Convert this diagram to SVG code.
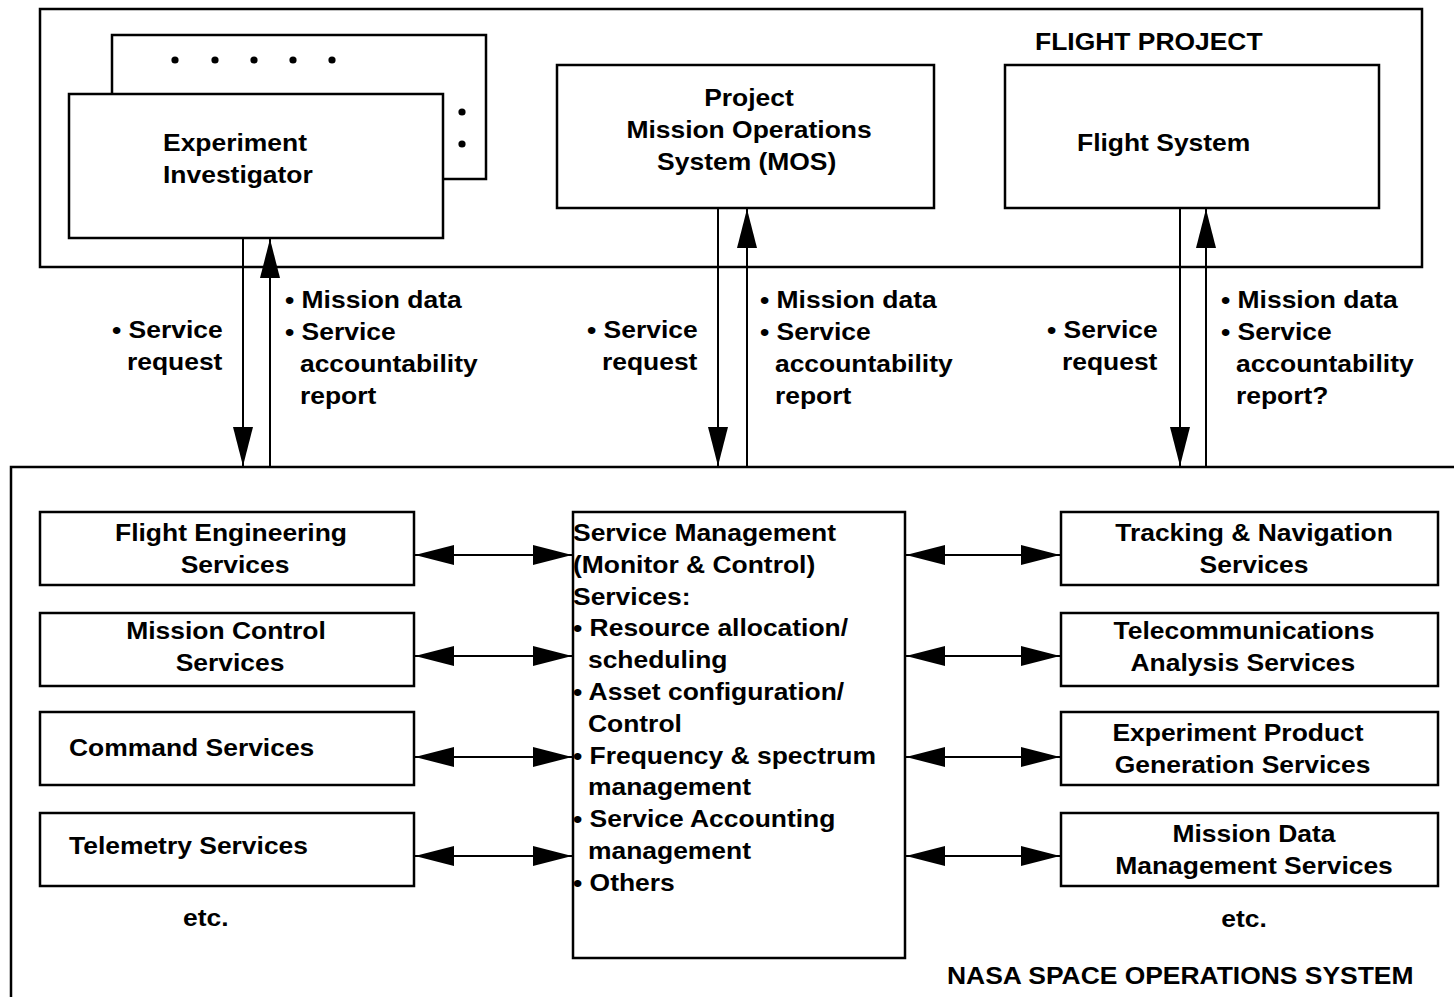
<svg xmlns="http://www.w3.org/2000/svg" width="1454" height="997" viewBox="0 0 1454 997">
<style>
.box{fill:#fff;stroke:#000;stroke-width:2.5}
.frame{fill:none;stroke:#000;stroke-width:2.5}
.ln{fill:none;stroke:#000;stroke-width:2}
.t{font-family:"Liberation Sans",Arial,Helvetica,sans-serif;font-weight:bold;font-size:23px;fill:#000}
.m{text-anchor:middle}
</style>
<defs>
<marker id="ah" viewBox="0 0 39 20" refX="39" refY="10" markerWidth="39" markerHeight="20" markerUnits="userSpaceOnUse" orient="auto-start-reverse">
<path d="M0,0 L39,10 L0,20 Z" fill="#000"/>
</marker>
</defs>
<rect width="1454" height="997" fill="#fff"/>

<g id="flight-project">
<rect class="frame" x="40" y="9" width="1382" height="258"/>
<text class="t" transform="translate(1035 50) scale(1.15 1)">FLIGHT PROJECT</text>
</g>

<g id="experiment-investigator">
<rect class="box" x="112" y="35" width="374" height="144"/>
<circle cx="175" cy="60" r="3.6"/><circle cx="215" cy="60" r="3.6"/><circle cx="254" cy="60" r="3.6"/><circle cx="293" cy="60" r="3.6"/><circle cx="332" cy="60" r="3.6"/>
<circle cx="462" cy="112" r="3.6"/><circle cx="462" cy="144" r="3.6"/>
<rect class="box" x="69" y="94" width="374" height="144"/>
<text class="t" transform="translate(163 151) scale(1.15 1)">Experiment<tspan x="0" dy="32">Investigator</tspan></text>
</g>

<g id="project-mos">
<rect class="box" x="557" y="65" width="377" height="143"/>
<text class="t m" transform="translate(749 106) scale(1.15 1)">Project<tspan x="0" dy="32">Mission Operations</tspan><tspan x="-2" dy="32">System (MOS)</tspan></text>
</g>

<g id="flight-system">
<rect class="box" x="1005" y="65" width="374" height="143"/>
<text class="t" transform="translate(1077 151) scale(1.15 1)">Flight System</text>
</g>

<g id="nasa-space-operations-system">
<rect class="frame" x="11" y="467" width="1460" height="560"/>
<text class="t" transform="translate(947 984) scale(1.15 1)">NASA SPACE OPERATIONS SYSTEM</text>
</g>

<g id="flight-engineering">
<rect class="box" x="40" y="512" width="374" height="73"/>
<text class="t m" transform="translate(231 541) scale(1.15 1)">Flight Engineering<tspan x="3.5" dy="32">Services</tspan></text>
</g>
<g id="mission-control">
<rect class="box" x="40" y="613" width="374" height="73"/>
<text class="t m" transform="translate(226 639) scale(1.15 1)">Mission Control<tspan x="3.5" dy="32">Services</tspan></text>
</g>
<g id="command">
<rect class="box" x="40" y="712" width="374" height="73"/>
<text class="t" transform="translate(69 756) scale(1.15 1)">Command Services</text>
</g>
<g id="telemetry">
<rect class="box" x="40" y="813" width="374" height="73"/>
<text class="t" transform="translate(69 854) scale(1.15 1)">Telemetry Services</text>
</g>
<g id="etc-left">
<text class="t" transform="translate(183 926) scale(1.15 1)">etc.</text>
</g>

<g id="service-management">
<rect class="box" x="573" y="512" width="332" height="446"/>
<text class="t" transform="translate(573 541) scale(1.15 1)">Service Management<tspan x="0" dy="31.8">(Monitor &amp; Control)</tspan><tspan x="0" dy="31.8">Services:</tspan><tspan x="0" dy="31.8">• Resource allocation/</tspan><tspan x="13" dy="31.8">scheduling</tspan><tspan x="0" dy="31.8">• Asset configuration/</tspan><tspan x="13" dy="31.8">Control</tspan><tspan x="0" dy="31.8">• Frequency &amp; spectrum</tspan><tspan x="13" dy="31.8">management</tspan><tspan x="0" dy="31.8">• Service Accounting</tspan><tspan x="13" dy="31.8">management</tspan><tspan x="0" dy="31.8">• Others</tspan></text>
</g>

<g id="tracking-navigation">
<rect class="box" x="1061" y="512" width="377" height="73"/>
<text class="t m" transform="translate(1254 541) scale(1.15 1)">Tracking &amp; Navigation<tspan x="0" dy="32">Services</tspan></text>
</g>
<g id="telecommunications-analysis">
<rect class="box" x="1061" y="613" width="377" height="73"/>
<text class="t m" transform="translate(1244 639) scale(1.15 1)">Telecommunications<tspan x="-1" dy="32">Analysis Services</tspan></text>
</g>
<g id="experiment-product-generation">
<rect class="box" x="1061" y="712" width="377" height="73"/>
<text class="t m" transform="translate(1238 741) scale(1.15 1)">Experiment Product<tspan x="4" dy="32">Generation Services</tspan></text>
</g>
<g id="mission-data-management">
<rect class="box" x="1061" y="813" width="377" height="73"/>
<text class="t m" transform="translate(1254 842) scale(1.15 1)">Mission Data<tspan x="0" dy="32">Management Services</tspan></text>
</g>
<g id="etc-right">
<text class="t m" transform="translate(1244 927) scale(1.15 1)">etc.</text>
</g>

<g id="connectors">
<line class="ln" x1="243" y1="238" x2="243" y2="466" marker-end="url(#ah)"/>
<line class="ln" x1="270" y1="466" x2="270" y2="239" marker-end="url(#ah)"/>
<line class="ln" x1="718" y1="208" x2="718" y2="466" marker-end="url(#ah)"/>
<line class="ln" x1="747" y1="466" x2="747" y2="209" marker-end="url(#ah)"/>
<line class="ln" x1="1180" y1="208" x2="1180" y2="466" marker-end="url(#ah)"/>
<line class="ln" x1="1206" y1="466" x2="1206" y2="209" marker-end="url(#ah)"/>

<line class="ln" x1="415" y1="555" x2="572" y2="555" marker-start="url(#ah)" marker-end="url(#ah)"/>
<line class="ln" x1="415" y1="656" x2="572" y2="656" marker-start="url(#ah)" marker-end="url(#ah)"/>
<line class="ln" x1="415" y1="757" x2="572" y2="757" marker-start="url(#ah)" marker-end="url(#ah)"/>
<line class="ln" x1="415" y1="856" x2="572" y2="856" marker-start="url(#ah)" marker-end="url(#ah)"/>
<line class="ln" x1="906" y1="555" x2="1060" y2="555" marker-start="url(#ah)" marker-end="url(#ah)"/>
<line class="ln" x1="906" y1="656" x2="1060" y2="656" marker-start="url(#ah)" marker-end="url(#ah)"/>
<line class="ln" x1="906" y1="757" x2="1060" y2="757" marker-start="url(#ah)" marker-end="url(#ah)"/>
<line class="ln" x1="906" y1="856" x2="1060" y2="856" marker-start="url(#ah)" marker-end="url(#ah)"/>

<text class="t" transform="translate(112 338) scale(1.15 1)">• Service<tspan x="13" dy="32">request</tspan></text>
<text class="t" transform="translate(285 308) scale(1.15 1)">• Mission data<tspan x="0" dy="32">• Service</tspan><tspan x="13" dy="32">accountability</tspan><tspan x="13" dy="32">report</tspan></text>
<text class="t" transform="translate(587 338) scale(1.15 1)">• Service<tspan x="13" dy="32">request</tspan></text>
<text class="t" transform="translate(760 308) scale(1.15 1)">• Mission data<tspan x="0" dy="32">• Service</tspan><tspan x="13" dy="32">accountability</tspan><tspan x="13" dy="32">report</tspan></text>
<text class="t" transform="translate(1047 338) scale(1.15 1)">• Service<tspan x="13" dy="32">request</tspan></text>
<text class="t" transform="translate(1221 308) scale(1.15 1)">• Mission data<tspan x="0" dy="32">• Service</tspan><tspan x="13" dy="32">accountability</tspan><tspan x="13" dy="32">report?</tspan></text>
</g>
</svg>
